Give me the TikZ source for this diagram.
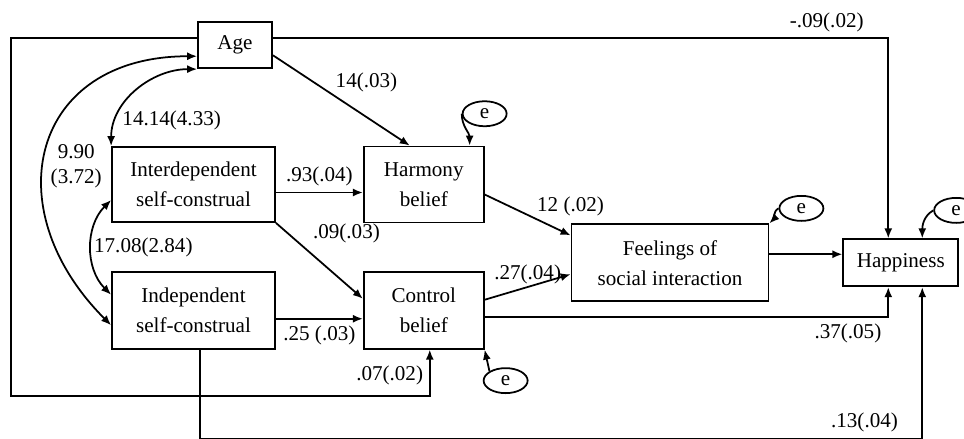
\documentclass[tikz,border=0pt]{standalone}
\usepackage{fontspec}
\setmainfont{Liberation Serif}
\usetikzlibrary{shapes.geometric, arrows.meta, positioning}

\begin{document}
\begin{tikzpicture}[
    >={Latex[length=2mm, width=1.6mm]},
    var/.style={rectangle, draw, line width=1pt, minimum width=3.26cm, minimum height=1.5cm, align=center, inner sep=2pt, font=\fontsize{12}{17}\selectfont},
    err/.style={ellipse, draw, line width=1pt, minimum width=0.88cm, minimum height=0.5cm, inner sep=0pt, font=\fontsize{12}{14}\selectfont},
    line/.style={draw, line width=1pt, ->, font=\fontsize{12}{14}\selectfont},
    cov/.style={line, <->}
]
\useasboundingbox (0,0) rectangle (19.28,-8.78);

% Exogenous Nodes
\node[var] (inter) at (3.87,-3.69) {Interdependent\\self-construal};
\node[var, minimum height=1.54cm, below=0.96cm of inter] (indep) {Independent\\self-construal};
\node[var, minimum width=1.48cm, minimum height=0.92cm, above=1.54cm of inter, xshift=0.83cm] (age) {Age};

% Mediator Nodes
\node[var, minimum width=2.4cm, minimum height=1.52cm, right=1.74cm of inter] (harmony) {Harmony\\belief};
\node[var, minimum width=2.4cm, minimum height=1.54cm, right=1.74cm of indep] (control) {Control\\belief};
\node[var, minimum width=3.94cm, minimum height=1.54cm, below right=0cm and 1.72cm of harmony] (feelings) {Feelings of\\social interaction};

% Outcome Node
\node[var, minimum width=2.3cm, minimum height=0.94cm, right=1.46cm of feelings] (happy) {Happiness};

% Error Terms
\node[err, above=0.37cm of harmony.north east] (eharmony) {e};
\node[err, xshift=0.64cm, yshift=0.3cm] (efeelings) at (feelings.north east) {e};
\node[err, xshift=-0.06cm, yshift=0.56cm] (ehappy) at (happy.north east) {e};
\node[err, xshift=0.42cm, yshift=-0.62cm] (econtrol) at (control.south east) {e};

% Covariances
\path [cov] (age.south west) to[out=180, in=90] node[pos=0.8, right] {14.14(4.33)} (inter.north west);
\path [cov] ([yshift=-0.22cm]age.west) to[out=180, in=135, looseness=1.5] node[pos=0.56, right, align=center] {9.90\\(3.72)} ([yshift=-0.3cm]indep.west);
\path [cov] ([yshift=-0.31cm]inter.west) to[out=225, in=135] node[pos=0.5, right, inner sep=1pt] {17.08(2.84)} ([yshift=0.31cm]indep.west);

% Paths
\path [line] ([yshift=-0.2cm]age.east) -- node[pos=0.44, above right, inner sep=1pt] {14(.03)} ([xshift=-0.28cm]harmony.north);
\path [line] ([yshift=-0.16cm]inter.east) -- node[above] {.93(.04)} ([yshift=-0.16cm]harmony.west);
\path [line] (inter.south east) -- node[pos=0.35, above right] {.09(.03)} ([yshift=0.23cm]control.west);
\path [line] ([yshift=-0.17cm]indep.east) -- node[below] {.25 (.03)} ([yshift=-0.17cm]control.west);
\path [line] ([yshift=-0.2cm]harmony.east) -- node[pos=0.58, above right, inner sep=1pt] {12 (.02)} ([yshift=-0.24cm]feelings.north west);
\path [line] ([yshift=0.21cm]control.east) -- node[pos=0.5, above, inner sep=1pt] {.27(.04)} ([yshift=-0.23cm]feelings.west);
\path [line] ([yshift=0.17cm]feelings.east) -- ([yshift=0.17cm]happy.west);
\path [line] ([yshift=-0.13cm]control.east) -| node[pos=0.45, below] {.37(.05)} ([xshift=-0.25cm]happy.south);
\path [line] ([yshift=0.14cm]age.east) -| node[pos=0.45, above] {-.09(.02)} ([xshift=-0.25cm]happy.north);
\path [line] ([yshift=0.14cm]age.west) -- ++(-3.72,0) |- ([xshift=0.12cm, yshift=-0.92cm]control.south) -- node[pos=0.43, left] {.07(.02)} ([xshift=0.12cm]control.south);
\path [line] ([xshift=0.13cm]indep.south) -- ++(0,-1.78) -| node[pos=0.46, above] {.13(.04)} ([xshift=0.43cm]happy.south);

% Error Paths
\path [line] (eharmony.west) to[out=270, in=90] ([xshift=-0.3cm]harmony.north east);
\path [line] (efeelings.west) to[out=210, in=45] (feelings.north east);
\path [line] (ehappy.west) to[out=210, in=90] ([xshift=0.43cm]happy.north);
\path [line] (econtrol.north west) -- (control.south east);

\end{tikzpicture}
\end{document}
